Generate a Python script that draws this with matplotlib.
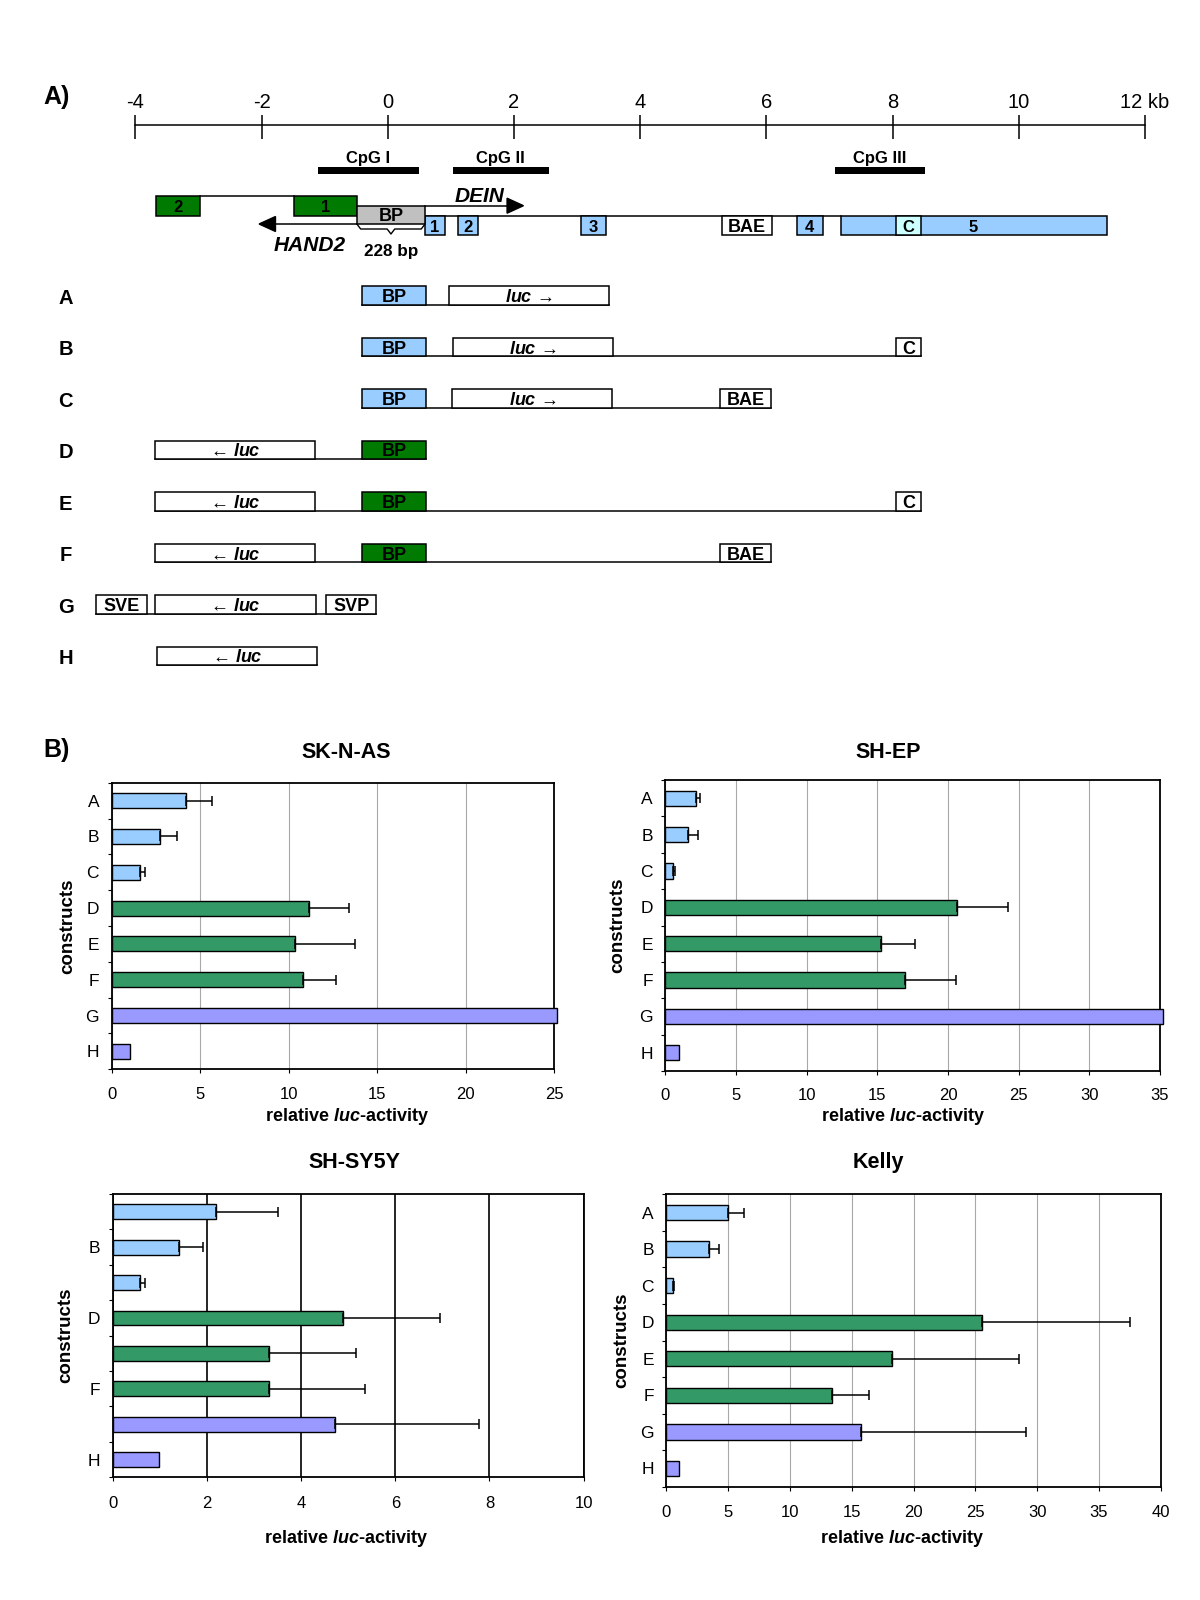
import numpy as np
import matplotlib
matplotlib.use('Agg')
import matplotlib.pyplot as plt
from matplotlib.patches import Rectangle, Polygon

plt.rcParams['font.family'] = ['Liberation Sans', 'DejaVu Sans']
plt.rcParams['mathtext.fontset'] = 'custom'
plt.rcParams['mathtext.it'] = 'Liberation Sans:italic:bold'
plt.rcParams['mathtext.rm'] = 'Liberation Sans:bold'

# ---------------- Panel A: gene map (positions in kb) ----------------
kb_ticks = [-4, -2, 0, 2, 4, 6, 8, 10, 12]
kb_labels = ['-4', '-2', '0', '2', '4', '6', '8', '10', '12 kb']

cpg_names = ['CpG I', 'CpG II', 'CpG III']
cpg_start = [-1.11, 1.03, 7.09]
cpg_end = [0.50, 2.55, 8.51]

hand2_exons = ['2', '1']
hand2_start = [-3.68, -1.49]
hand2_end = [-2.97, -0.49]

dein_exons = ['1', '2', '3', '4', '5']
dein_start = [0.59, 1.12, 3.06, 6.48, 7.18]
dein_end = [0.90, 1.43, 3.46, 6.89, 11.40]
exon5_label_pos = 9.27
c_region = (8.05, 8.45)
bae_region = (5.29, 6.09)
bp_region = (-0.49, 0.59)
dein_arrow_end = 2.15
hand2_arrow_end = -2.04

LUC_R = r'$\mathit{luc}$ →'
LUC_L = r'← $\mathit{luc}$'
construct_names = ['A', 'B', 'C', 'D', 'E', 'F', 'G', 'H']
construct_parts = [
    [('BP', -0.41, 0.61, '#99ccff'), (LUC_R, 0.97, 3.50, 'white')],
    [('BP', -0.41, 0.61, '#99ccff'), (LUC_R, 1.03, 3.57, 'white'), ('C', 8.05, 8.45, 'white')],
    [('BP', -0.41, 0.61, '#99ccff'), (LUC_R, 1.02, 3.56, 'white'), ('BAE', 5.27, 6.07, 'white')],
    [(LUC_L, -3.69, -1.15, 'white'), ('BP', -0.41, 0.61, '#007a00')],
    [(LUC_L, -3.69, -1.15, 'white'), ('BP', -0.41, 0.61, '#007a00'), ('C', 8.05, 8.45, 'white')],
    [(LUC_L, -3.69, -1.15, 'white'), ('BP', -0.41, 0.61, '#007a00'), ('BAE', 5.27, 6.07, 'white')],
    [('SVE', -4.62, -3.82, 'white'), (LUC_L, -3.69, -1.14, 'white'), ('SVP', -0.98, -0.18, 'white')],
    [(LUC_L, -3.66, -1.12, 'white')],
]

# ---------------- Panel B: luciferase activity ----------------
bar_constructs = ['A', 'B', 'C', 'D', 'E', 'F', 'G', 'H']
bar_colors = ['#99ccff'] * 3 + ['#339966'] * 3 + ['#9999ff'] * 2

sknas_mean = [4.22, 2.74, 1.63, 11.13, 10.37, 10.80, 25.15, 1.05]
sknas_err = [1.44, 0.98, 0.26, 2.31, 3.40, 1.87, 0, 0]

shep_mean = [2.16, 1.60, 0.56, 20.63, 15.25, 16.98, 35.19, 1.01]
shep_err = [0.32, 0.72, 0.13, 3.64, 2.40, 3.62, 0, 0]

shsy5y_mean = [2.19, 1.40, 0.58, 4.89, 3.31, 3.31, 4.71, 0.99]
shsy5y_err = [1.32, 0.51, 0.10, 2.05, 1.85, 2.05, 3.07, 0]

kelly_mean = [5.02, 3.41, 0.52, 25.51, 18.26, 13.39, 15.77, 1.00]
kelly_err = [1.22, 0.85, 0.12, 12.02, 10.26, 2.99, 13.36, 0]

fig = plt.figure(figsize=(12, 16), dpi=100)

# map axis: x in kb, y in pixels from top
KB0_PX, PX_PER_KB = 387.8, 63.1


def kb(px):
    return (px - KB0_PX) / PX_PER_KB


ax0 = fig.add_axes([0, 1 - 700 / 1600, 1, 700 / 1600])
ax0.set_xlim(kb(0), kb(1200))
ax0.set_ylim(700, 0)
ax0.axis('off')


def box(x0, x1, y0, y1, fc, z=3):
    ax0.add_patch(Rectangle((x0, y0), x1 - x0, y1 - y0, facecolor=fc,
                            edgecolor='black', lw=1.1, zorder=z))


def label(x, yc, s, size, **kw):
    # put the cap height centred on yc (y axis is in pixels, pointing down)
    ax0.text(x, yc + 0.36 * size * 100 / 72, s, ha='center', va='baseline',
             fontsize=size, fontweight='bold', zorder=6, **kw)


# scale bar
ax0.plot([kb_ticks[0], kb_ticks[-1]], [125, 125], color='black', lw=1.1)
ax0.vlines(kb_ticks, 115, 139, color='black', lw=1.1)
for t, lab in zip(kb_ticks, kb_labels):
    ax0.text(t, 103, lab, ha='center', va='center', fontsize=14.5)

# CpG islands
for name, s, e in zip(cpg_names, cpg_start, cpg_end):
    ax0.add_patch(Rectangle((s, 167.3), e - s, 7, facecolor='black', lw=0))
    label((s + e) / 2, 157, name, 12)

# HAND2 exons (green) with intron line
ax0.plot([hand2_end[0], hand2_start[1]], [196, 196], color='black', lw=1.1, zorder=2)
for lab, s, e in zip(hand2_exons, hand2_start, hand2_end):
    box(s, e, 196, 215.7, '#007a00')
    label((s + e) / 2, 205.8, lab, 12)

# bidirectional promoter
box(bp_region[0], bp_region[1], 205.7, 224, '#c0c0c0', z=4)
label(np.mean(bp_region), 214.8, 'BP', 13)

# DEIN arrow
head = 0.26
ax0.plot([bp_region[1], dein_arrow_end - head], [205.7, 205.7], color='black', lw=1.1)
ax0.add_patch(Polygon([[dein_arrow_end - head, 198.2], [dein_arrow_end - head, 213.2],
                       [dein_arrow_end, 205.7]], closed=True, color='black'))
label(1.46, 194.7, 'DEIN', 15, style='italic')

# HAND2 arrow
ax0.plot([bp_region[0], hand2_arrow_end + head], [224, 224], color='black', lw=1.1)
ax0.add_patch(Polygon([[hand2_arrow_end + head, 216.5], [hand2_arrow_end + head, 231.5],
                       [hand2_arrow_end, 224]], closed=True, color='black'))
label(-1.24, 243.3, 'HAND2', 15, style='italic')

# brace + size
b0, b1 = bp_region
bm = np.mean(bp_region)
ax0.plot([b0, b0 + 0.06, bm - 0.06, bm, bm + 0.06, b1 - 0.06, b1],
         [224, 229, 229, 234, 229, 229, 224], color='black', lw=1.0)
label(bm, 250, '228 bp', 12.3)

# DEIN exons (blue)
ax0.plot([bp_region[1], dein_start[-1]], [215.7, 215.7], color='black', lw=1.1, zorder=2)
for lab, s, e in zip(dein_exons, dein_start, dein_end):
    box(s, e, 215.7, 235.3, '#99ccff')
    xlab = exon5_label_pos if lab == '5' else (s + e) / 2
    label(xlab, 225.5, lab, 12)
box(c_region[0], c_region[1], 215.7, 235.3, '#ccffff', z=4)
label(np.mean(c_region), 225.5, 'C', 12)
box(bae_region[0], bae_region[1], 215.7, 235.3, 'white')
label(np.mean(bae_region), 225.5, 'BAE', 13)

# reporter constructs
for i, (name, parts) in enumerate(zip(construct_names, construct_parts)):
    yc = 295.5 + i * 51.5
    label(kb(65.6), yc + 1, name, 14.5)
    lo = min(p[1] for p in parts)
    hi = max(p[2] for p in parts)
    ax0.plot([lo, hi], [yc + 9.3, yc + 9.3], color='black', lw=1.1, zorder=2)
    for lab, s, e, fc in parts:
        box(s, e, yc - 9.3, yc + 9.3, fc)
        label((s + e) / 2, yc, lab, 13)

fig.text(56.8 / 1200, 1 - 97 / 1600, 'A)', ha='center', va='center', fontsize=18, fontweight='bold')
fig.text(56.9 / 1200, 1 - 750 / 1600, 'B)', ha='center', va='center', fontsize=18, fontweight='bold')


def bar_panel(rect, title, title_pos, values, errors, xmax, xstep, grid_col, grid_lw,
              shown_labels, xlabel_pos, ylabel_x, xpad):
    ax = fig.add_axes(rect)
    y = np.arange(len(bar_constructs))
    ax.barh(y, values, height=0.42, color=bar_colors, edgecolor='black',
            linewidth=1.0, zorder=3, clip_on=False)
    idx = [i for i, e in enumerate(errors) if e > 0]
    ax.errorbar([values[i] for i in idx], [y[i] for i in idx],
                xerr=[[0] * len(idx), [errors[i] for i in idx]], fmt='none',
                ecolor='black', elinewidth=1.1, capsize=3.5, capthick=1.1, zorder=4)
    ax.set_xlim(0, xmax)
    ax.set_ylim(7.5, -0.5)
    xt = np.arange(0, xmax + 0.01, xstep)
    ax.set_xticks(xt)
    ax.set_xticklabels([str(int(v)) for v in xt])
    ax.set_yticks(y)
    ax.set_yticklabels(shown_labels)
    ax.set_yticks(np.arange(-0.5, 8, 1), minor=True)
    ax.tick_params(axis='y', which='major', length=0, pad=9, labelsize=12.5)
    ax.tick_params(axis='y', which='minor', length=3, width=0.8)
    ax.tick_params(axis='x', length=3, width=0.8, pad=xpad, labelsize=12)
    ax.grid(axis='x', color=grid_col, lw=grid_lw)
    ax.set_axisbelow(True)
    for sp in ax.spines.values():
        sp.set_linewidth(1.3)
    ax.text(title_pos[0], title_pos[1], title, transform=ax.transAxes, ha='center',
            va='center', fontsize=15.5, fontweight='bold')
    ax.text(xlabel_pos[0], xlabel_pos[1], r'relative $\mathit{luc}$-activity',
            transform=ax.transAxes, ha='center', va='center', fontsize=13, fontweight='bold')
    ax.text(ylabel_x, 0.5, 'constructs', transform=ax.transAxes, ha='center', va='center',
            rotation=90, fontsize=13.5, fontweight='bold')
    return ax


bar_panel([111.6 / 1200, 1 - 1069.3 / 1600, 442.5 / 1200, 286.6 / 1600], 'SK-N-AS',
          (0.531, 1.105), sknas_mean, sknas_err, 25, 5, '#a8a8a8', 0.8,
          bar_constructs, (0.532, -0.163), -0.099, 9.5)
bar_panel([665.2 / 1200, 1 - 1071 / 1600, 494.8 / 1200, 291 / 1600], 'SH-EP',
          (0.451, 1.094), shep_mean, shep_err, 35, 5, '#a8a8a8', 0.8,
          bar_constructs, (0.48, -0.156), -0.095, 9.5)
bar_panel([112.9 / 1200, 1 - 1477.3 / 1600, 470.7 / 1200, 283.3 / 1600], 'SH-SY5Y',
          (0.514, 1.11), shsy5y_mean, shsy5y_err, 10, 2, 'black', 1.2,
          ['', 'B', '', 'D', '', 'F', '', 'H'], (0.495, -0.215), -0.100, 10.5)
bar_panel([666.4 / 1200, 1 - 1486.7 / 1600, 494.4 / 1200, 292.4 / 1600], 'Kelly',
          (0.428, 1.108), kelly_mean, kelly_err, 40, 5, '#a8a8a8', 0.8,
          bar_constructs, (0.476, -0.176), -0.090, 10.5)

fig.savefig('out.png', dpi=100)
